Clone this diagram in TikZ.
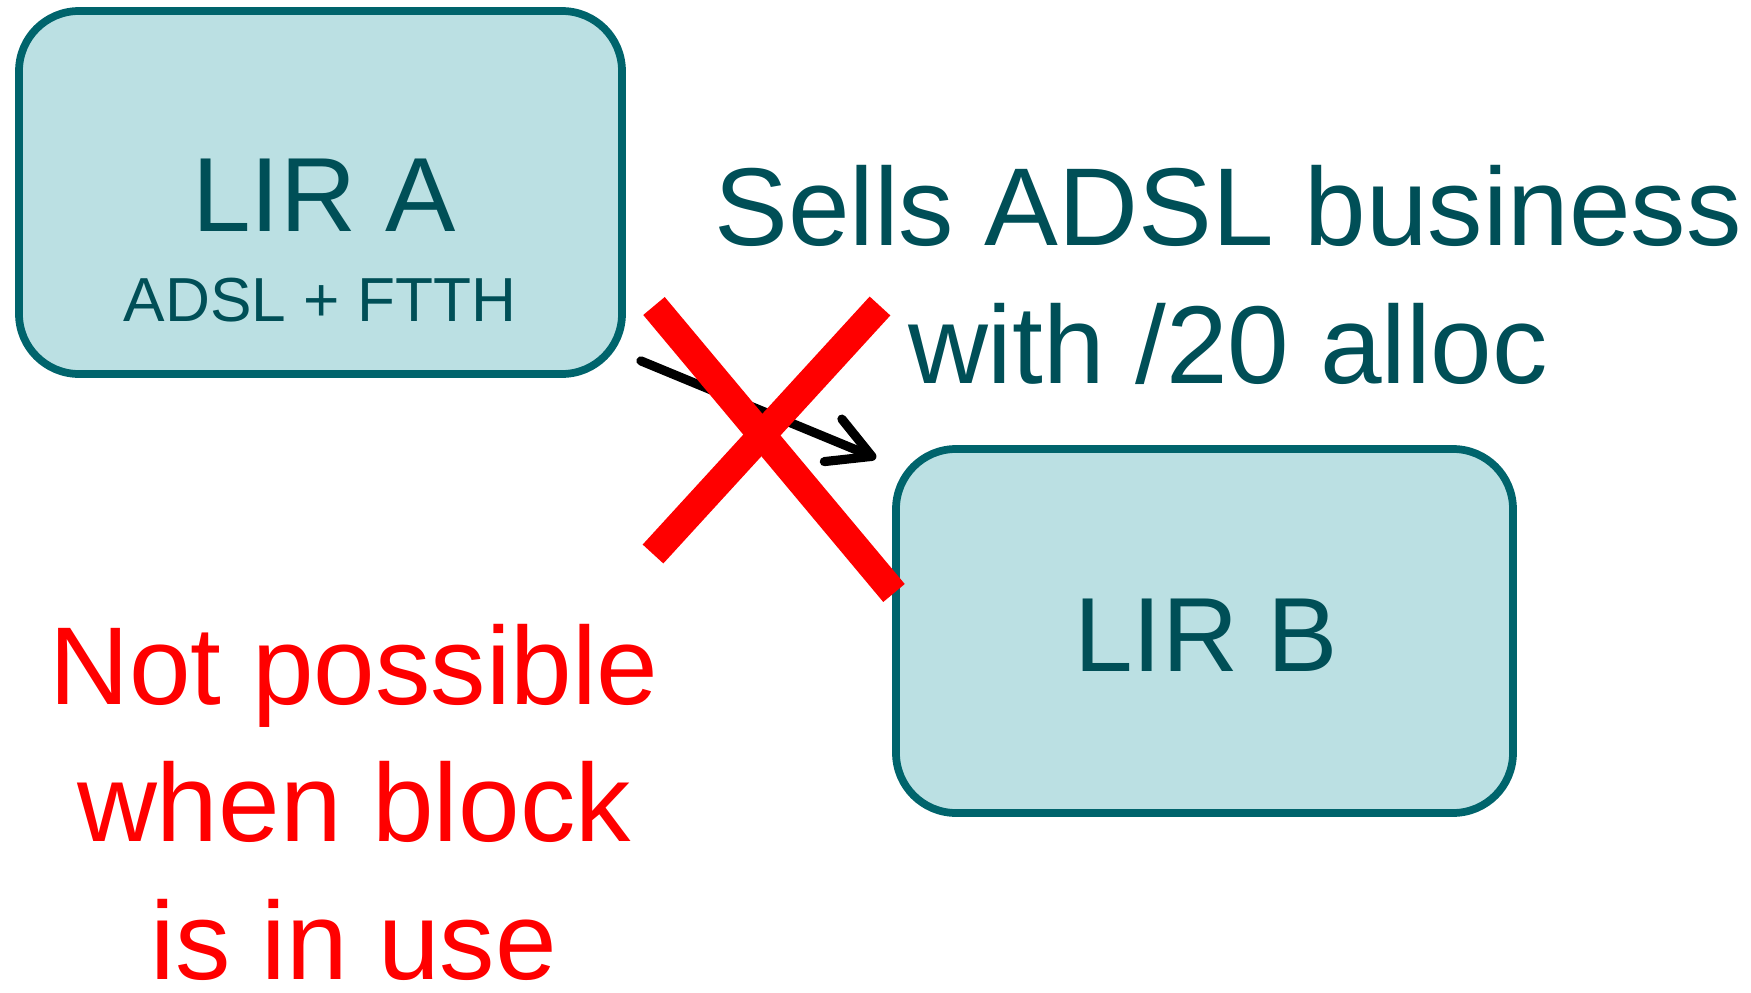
\documentclass[tikz,border=0pt]{standalone}
\usepackage{fontspec}
\setmainfont{Liberation Sans}
\usepackage{xcolor}
\usepackage{tikz}
\usetikzlibrary{arrows.meta}
\usetikzlibrary{positioning, calc}
\definecolor{boxfill}{HTML}{BBE0E3}
\definecolor{boxline}{HTML}{00646C}
\definecolor{tealtext}{HTML}{004F57}
\tikzset{
    lir_box/.style = {draw=boxline, line width=2.2pt, fill=boxfill,
        rounded corners=0.6cm, inner sep=0pt},
    big_text/.style = {inner sep=0pt, anchor=base, font=\fontsize{31.5pt}{39pt}\selectfont},
    lir_text/.style = {inner sep=0pt, anchor=base, text=tealtext, font=\fontsize{30pt}{39pt}\selectfont},
    teal_text/.style = {big_text, text=tealtext},
    small_text/.style = {inner sep=0pt, anchor=base, text=tealtext,
        font=\fontsize{17.7pt}{21pt}\selectfont},
    no_text/.style = {big_text, text=red, align=center},
    cross_bar/.style = {draw=red, line width=0.28cm},
}

\begin{document}
\begin{tikzpicture}[>={Straight Barb[length=0.42cm,width=0.46cm,line cap=round,line join=round]}]
        \useasboundingbox (0,0) rectangle (17.51,9.92);
        \node [lir_box, minimum width=6.03cm, minimum height=3.63cm] (lira) at (3.205,7.995) {};
        \node [lir_box, minimum width=6.17cm, minimum height=3.64cm] (lirb) at (12.045,3.61) {};
        \node [lir_text] (lirname_a) at (3.24,7.60) {LIR A};
        \node [small_text] (lirsub_a) at (3.20,6.71) {ADSL + FTTH};
        \node [lir_text] (lirname_b) at (12.06,3.21) {LIR B};
        % base anchor = last line
        \node [teal_text, align=center] (sells) at (12.28,6.09) {Sells ADSL business\\with /20 alloc};
        \node [no_text] (notpossible) at (3.54,0.13) {Not possible\\when block\\is in use};
        % transfer arrow
        \draw [->, line width=2.6pt, line cap=round]
            ([shift={(0.15,0.17)}]lira.south east) -- ([shift={(-0.16,-0.13)}]lirb.north west);
        % red cross
        \draw [cross_bar] (6.54,6.86) -- (8.94,3.99);
        \draw [cross_bar] (8.80,6.86) -- (6.53,4.38);
\end{tikzpicture}
\end{document}
